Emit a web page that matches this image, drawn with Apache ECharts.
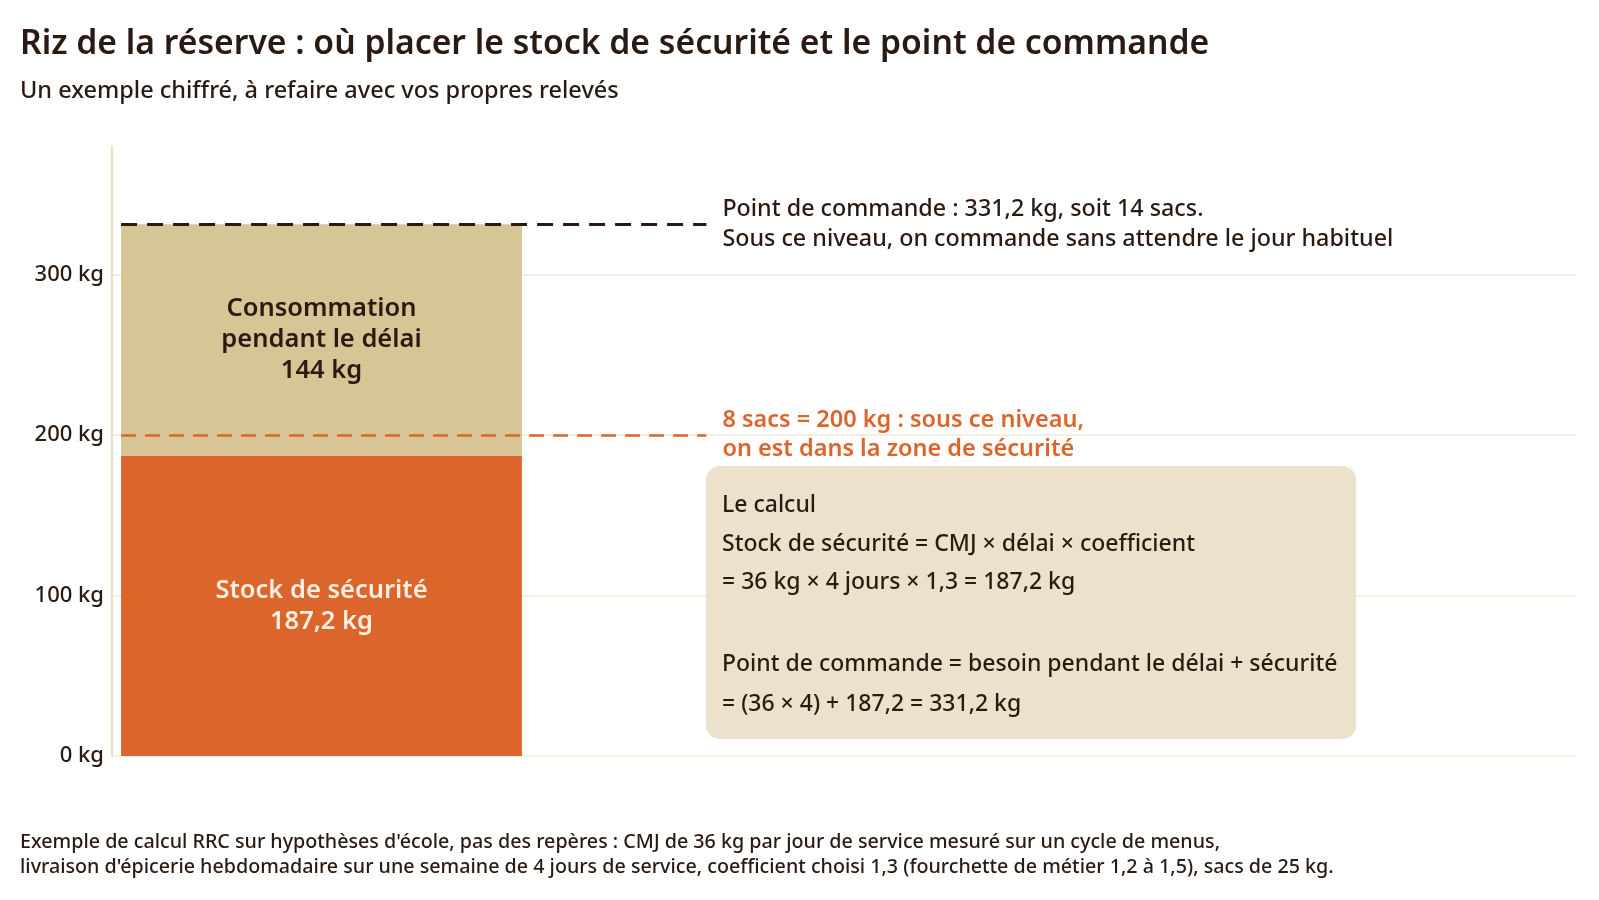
<!DOCTYPE html>
<html>
<head>
<meta charset="utf-8">
<script src="https://cdn.jsdelivr.net/npm/echarts@6/dist/echarts.min.js"></script>
<style>html,body{margin:0;padding:0;background:#fff;}#c{width:1599px;height:900px;}</style>
</head>
<body>
<div id="c"></div>
<script>
// ---- Data ----
const segmentNames = ['Stock de sécurité', 'Consommation pendant le délai'];
const segmentLabels = ['Stock de sécurité\n187,2 kg', 'Consommation\npendant le délai\n144 kg'];
const segmentValues = [187.2, 144];
const reorderPoint = 331.2;
const safetyThreshold = 200;
const yTicks = [0, 100, 200, 300];
const reorderLabel = 'Point de commande : 331,2 kg, soit 14 sacs.\nSous ce niveau, on commande sans attendre le jour habituel';
const safetyLabel = '8 sacs = 200 kg : sous ce niveau,\non est dans la zone de sécurité';
const calcLines = [
  'Le calcul',
  'Stock de sécurité = CMJ × délai × coefficient',
  '= 36 kg × 4 jours × 1,3 = 187,2 kg',
  'Point de commande = besoin pendant le délai + sécurité',
  '= (36 × 4) + 187,2 = 331,2 kg'
];
const titleText = 'Riz de la réserve : où placer le stock de sécurité et le point de commande';
const subtitleText = 'Un exemple chiffré, à refaire avec vos propres relevés';
const footLines = [
  "Exemple de calcul RRC sur hypothèses d'école, pas des repères : CMJ de 36 kg par jour de service mesuré sur un cycle de menus,",
  "livraison d'épicerie hebdomadaire sur une semaine de 4 jours de service, coefficient choisi 1,3 (fourchette de métier 1,2 à 1,5), sacs de 25 kg."
];

// ---- Layout / style ----
const FONT = '"Noto Sans", sans-serif';
const DARK = '#2a1a12';
const ORANGE = '#dc652b';
const TAN = '#d8c596';
const barX = [0.62, 28.0];   // horizontal extent of the bar, % of plot width
const lineEndX = 40.6;       // end of reference lines, % of plot width

// cumulative segments
const segData = [];
let acc = 0;
segmentValues.forEach((v, i) => {
  segData.push({ name: segmentNames[i], value: [0, acc, acc + v, i] });
  acc += v;
});
const segColors = [ORANGE, TAN];
const segTextColors = ['#fbefe3', DARK];

const chart = echarts.init(document.getElementById('c'), null, { renderer: 'canvas' });

const boxX = 706, boxY = 466, boxW = 650, boxH = 273;
const calcY = [505, 544, 582, 664, 704];
const footY = [842, 867];

const option = {
  backgroundColor: '#ffffff',
  animation: false,
  grid: { left: 112, right: 23, top: 146, bottom: 144, containLabel: false },
  xAxis: { type: 'value', min: 0, max: 100, show: false },
  yAxis: {
    type: 'value', min: 0, max: 380, interval: 100,
    axisLine: { show: true, lineStyle: { color: '#e4d4b0', width: 1.5 } },
    axisTick: { show: false },
    splitLine: { show: true, showMaxLine: false, lineStyle: { color: '#f0e8da', width: 1.5 } },
    axisLabel: {
      margin: 8, color: DARK, fontFamily: FONT, fontSize: 22, fontWeight: 500,
      formatter: v => (yTicks.indexOf(v) >= 0 ? v + ' kg' : ''),
      showMaxLabel: false
    }
  },
  series: [
    {
      type: 'custom',
      z: 2,
      encode: { x: 0, y: [1, 2] },
      data: segData,
      renderItem: function (params, api) {
        const i = api.value(3);
        const p0 = api.coord([barX[0], api.value(1)]);
        const p1 = api.coord([barX[1], api.value(2)]);
        return {
          type: 'rect',
          shape: { x: p0[0], y: p1[1], width: p1[0] - p0[0], height: p0[1] - p1[1] },
          style: { fill: segColors[i] },
          textContent: {
            style: {
              text: segmentLabels[i], fill: segTextColors[i], fontFamily: FONT,
              fontSize: 25.5, fontWeight: 600, lineHeight: 31, align: 'center'
            }
          },
          textConfig: { position: 'inside' }
        };
      }
    },
    {
      type: 'line',
      z: 5,
      data: [[barX[0], 0]],
      symbol: 'none',
      lineStyle: { opacity: 0 },
      markLine: {
        silent: true,
        symbol: ['none', 'none'],
        animation: false,
        data: [
          [
            { coord: [barX[0], reorderPoint], lineStyle: { color: DARK, width: 3, type: [16, 10] },
              label: { show: true, position: 'end', distance: 16, formatter: reorderLabel, color: DARK,
                       fontFamily: FONT, fontSize: 23.3, fontWeight: 500, lineHeight: 29.5, align: 'left' } },
            { coord: [lineEndX, reorderPoint] }
          ],
          [
            { coord: [barX[0], safetyThreshold], lineStyle: { color: ORANGE, width: 2.5, type: [15, 9] },
              label: { show: true, position: 'end', distance: 16, formatter: safetyLabel, color: ORANGE,
                       fontFamily: FONT, fontSize: 23.5, fontWeight: 600, lineHeight: 29, align: 'left' } },
            { coord: [lineEndX, safetyThreshold] }
          ]
        ]
      }
    }
  ],
  graphic: [
    { type: 'text', x: 20, y: 44, style: { text: titleText, fill: DARK, fontFamily: FONT, fontSize: 33.7, fontWeight: 600, verticalAlign: 'middle' } },
    { type: 'text', x: 20, y: 91, style: { text: subtitleText, fill: DARK, fontFamily: FONT, fontSize: 23.5, fontWeight: 500, verticalAlign: 'middle' } },
    { type: 'rect', shape: { x: boxX, y: boxY, width: boxW, height: boxH, r: 14 }, style: { fill: '#ece2cc' }, z: 10 },
    ...calcLines.map((t, i) => ({
      type: 'text', x: 722, y: calcY[i], z: 11,
      style: { text: t, fill: DARK, fontFamily: FONT, fontSize: 23, fontWeight: 500, verticalAlign: 'middle' }
    })),
    ...footLines.map((t, i) => ({
      type: 'text', x: 20, y: footY[i],
      style: { text: t, fill: DARK, fontFamily: FONT, fontSize: 19.7, fontWeight: 500, verticalAlign: 'middle' }
    }))
  ]
};
chart.setOption(option);
</script>
</body>
</html>
